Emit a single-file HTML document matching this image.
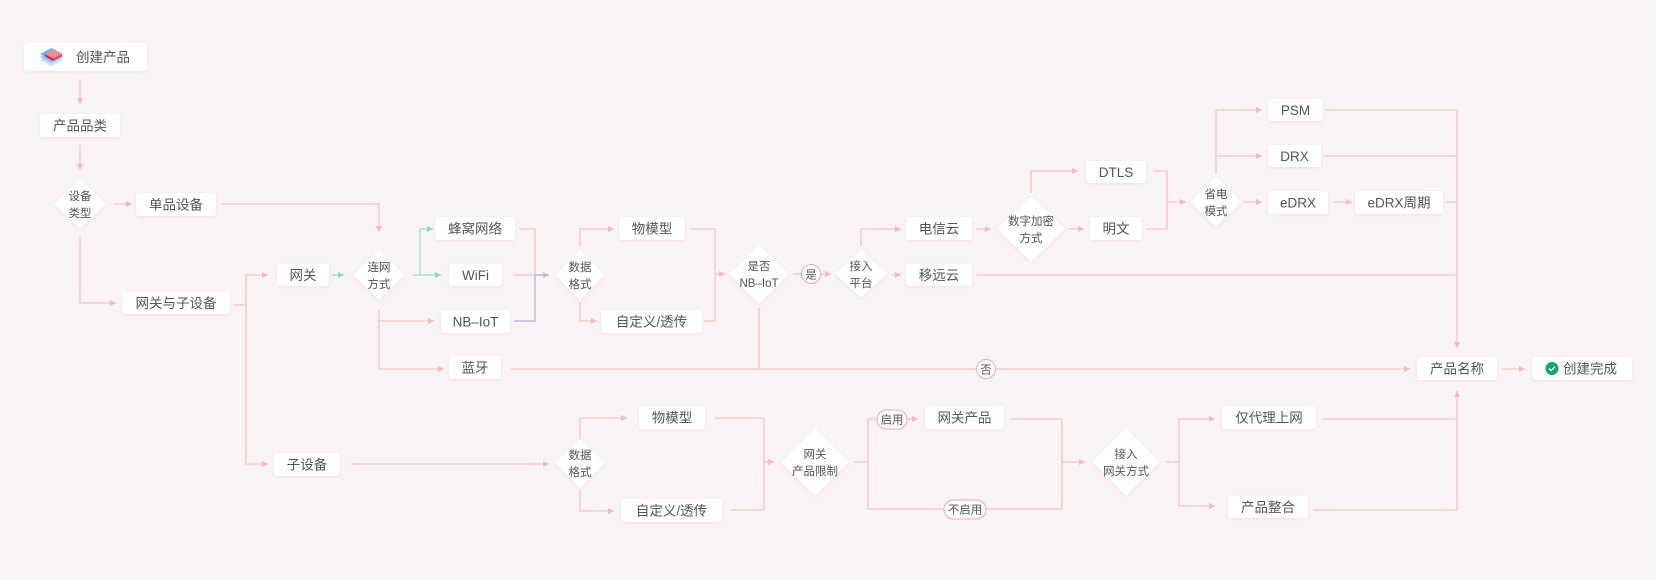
<!DOCTYPE html>
<html><head><meta charset="utf-8"><style>
html,body{margin:0;padding:0;background:#fbf4f4;}
svg{display:block;}
text{font-family:"Liberation Sans","Noto Sans CJK SC",sans-serif;fill:#555;}
.b{font-size:13.5px;}
.d{font-size:11.5px;}
.l{stroke:#f7c4c7;stroke-width:1.3;fill:none;}
.t{stroke:#8fe0cb;stroke-width:1.3;fill:none;}
.u{stroke:#aab3ea;stroke-width:1.3;fill:none;}
</style></head><body>
<svg width="1656" height="580" viewBox="0 0 1656 580" xmlns="http://www.w3.org/2000/svg">
<defs>
<marker id="a" markerUnits="userSpaceOnUse" markerWidth="7" markerHeight="7" refX="6" refY="3.5" orient="auto"><path d="M0,0.5 L6,3.5 L0,6.5 z" fill="#f7b9bd"/></marker>
<marker id="g" markerUnits="userSpaceOnUse" markerWidth="7" markerHeight="7" refX="6" refY="3.5" orient="auto"><path d="M0,0.5 L6,3.5 L0,6.5 z" fill="#7fdcc4"/></marker>
<filter id="s" x="-20%" y="-30%" width="140%" height="160%"><feDropShadow dx="0" dy="1" stdDeviation="1.5" flood-color="#e8d0d0" flood-opacity="0.6"/></filter>
</defs>
<rect width="1656" height="580" fill="#fbf4f4"/>

<g class="l">
<path d="M80 79 V104" marker-end="url(#a)"/>
<path d="M80 145 V170" marker-end="url(#a)"/>
<path d="M114 204 H132" marker-end="url(#a)"/>
<path d="M221 204 H379 V232" marker-end="url(#a)"/>
<path d="M80 237 V303 H116" marker-end="url(#a)"/>
<path d="M234 305 H246 V275 H268" marker-end="url(#a)"/>
<path d="M246 305 V464 H268" marker-end="url(#a)"/>
<path d="M379 310 V369 H444" marker-end="url(#a)"/>
<path d="M379 321 H434" marker-end="url(#a)"/>
<path d="M519 229 H535 V275"/>
<path d="M513 275 H549" marker-end="url(#a)"/>
<path d="M511 369 H1410" marker-end="url(#a)"/>
<path d="M759 308 V369"/>
<path d="M351 464 H549" marker-end="url(#a)"/>
<path d="M580 246 V229 H614" marker-end="url(#a)"/>
<path d="M580 302 V321 H597" marker-end="url(#a)"/>
<path d="M690 229 H715 V321 H704"/>
<path d="M715 274 H725" marker-end="url(#a)"/>
<path d="M793 274 H801"/>
<path d="M821 274 H831" marker-end="url(#a)"/>
<path d="M861 246 V229 H901" marker-end="url(#a)"/>
<path d="M892 275 H901" marker-end="url(#a)"/>
<path d="M976 229 H991" marker-end="url(#a)"/>
<path d="M1031 193 V171 H1078" marker-end="url(#a)"/>
<path d="M1069 229 H1084" marker-end="url(#a)"/>
<path d="M976 275 H1457"/>
<path d="M1153 171 H1167 V229 H1146"/>
<path d="M1167 202 H1186" marker-end="url(#a)"/>
<path d="M1216 174 V110 H1262" marker-end="url(#a)"/>
<path d="M1216 156 H1262" marker-end="url(#a)"/>
<path d="M1243 202 H1262" marker-end="url(#a)"/>
<path d="M1333 202 H1352" marker-end="url(#a)"/>
<path d="M1325 110 H1457 V348" marker-end="url(#a)"/>
<path d="M1323 156 H1457"/>
<path d="M1446 202 H1457"/>
<path d="M1502 369 H1525" marker-end="url(#a)"/>
<path d="M580 440 V418 H627" marker-end="url(#a)"/>
<path d="M580 490 V511 H614" marker-end="url(#a)"/>
<path d="M715 418 H764 V510 H731"/>
<path d="M764 462 H774" marker-end="url(#a)"/>
<path d="M854 462 H868 V419 H877"/>
<path d="M868 462 V509 H944"/>
<path d="M986 509 H1062 V419 H1011"/>
<path d="M908 419 H918" marker-end="url(#a)"/>
<path d="M1062 462 H1085" marker-end="url(#a)"/>
<path d="M1166 462 H1179 V419 H1215" marker-end="url(#a)"/>
<path d="M1179 462 V506 H1215" marker-end="url(#a)"/>
<path d="M1323 419 H1457"/>
<path d="M1313 510 H1457 V391" marker-end="url(#a)"/>
</g>
<g class="t">
<path d="M332 275 H344" marker-end="url(#g)"/>
<path d="M413 275 H441" marker-end="url(#g)"/>
<path d="M420 275 V229 H433" marker-end="url(#g)"/>
</g>
<path class="u" d="M514 321 H535 V275 H549"/>

<g fill="#fff" stroke="#f3a9ae" stroke-width="1">
<circle cx="811" cy="274" r="9.5"/>
<circle cx="986" cy="369" r="9.5"/>
<rect x="877" y="410" width="30" height="19" rx="9.5"/>
<rect x="944" y="500" width="42" height="19" rx="9.5"/>
</g>
<text x="811" y="278.5" class="d" text-anchor="middle">是</text>
<text x="986" y="373.5" class="d" text-anchor="middle">否</text>
<text x="892" y="423.5" class="d" text-anchor="middle">启用</text>
<text x="965" y="513.5" class="d" text-anchor="middle">不启用</text>

<g fill="#fff" filter="url(#s)">
<rect x="24" y="43" width="123" height="28" rx="4"/>
<rect x="40" y="114" width="80" height="23" rx="3"/>
<rect x="136" y="193" width="80" height="23" rx="3"/>
<rect x="122" y="292" width="108" height="22" rx="3"/>
<rect x="277" y="264" width="52" height="22" rx="3"/>
<rect x="435" y="217" width="80" height="23" rx="3"/>
<rect x="449" y="264" width="53" height="22" rx="3"/>
<rect x="441" y="310" width="69" height="23" rx="3"/>
<rect x="449" y="356" width="52" height="23" rx="3"/>
<rect x="274" y="453" width="66" height="23" rx="3"/>
<rect x="619" y="217" width="66" height="23" rx="3"/>
<rect x="601" y="310" width="101" height="23" rx="3"/>
<rect x="906" y="217" width="66" height="23" rx="3"/>
<rect x="906" y="264" width="66" height="22" rx="3"/>
<rect x="1086" y="161" width="60" height="22" rx="3"/>
<rect x="1090" y="217" width="52" height="23" rx="3"/>
<rect x="1268" y="99" width="55" height="22" rx="3"/>
<rect x="1268" y="145" width="53" height="22" rx="3"/>
<rect x="1268" y="191" width="60" height="23" rx="3"/>
<rect x="1355" y="191" width="88" height="23" rx="3"/>
<rect x="1417" y="357" width="80" height="23" rx="3"/>
<rect x="1532" y="357" width="100" height="23" rx="3"/>
<rect x="639" y="406" width="66" height="23" rx="3"/>
<rect x="621" y="499" width="101" height="23" rx="3"/>
<rect x="925" y="406" width="79" height="23" rx="3"/>
<rect x="1222" y="406" width="94" height="23" rx="3"/>
<rect x="1228" y="496" width="80" height="22" rx="3"/>
<polygon points="80,179 106,204 80,229 54,204"/>
<polygon points="379,250 405,275 379,300 353,275"/>
<polygon points="580,250 605,275 580,300 555,275"/>
<polygon points="759,245 789,274 759,304 729,274"/>
<polygon points="861,250 887,274 861,298 835,274"/>
<polygon points="1031,196 1065,229 1031,262 997,229"/>
<polygon points="1216,177 1242,202 1216,227 1190,202"/>
<polygon points="580,439 605,463 580,488 555,463"/>
<polygon points="815,428 849,462 815,496 781,462"/>
<polygon points="1126,428 1160,462 1126,496 1092,462"/>
</g>

<!-- icon -->
<g>
<polygon points="40,60 51.5,54 63,60 51.5,66" fill="#c4e2fb"/>
<polygon points="40,57 51.5,51 63,57 51.5,63" fill="#8cc8f6"/>
<polygon points="40,54 51.5,48 63,54 51.5,60" fill="#6bb4f2"/>
<polygon points="45,54 54,49.5 62,54 53,58.5" fill="#f38a96"/>
<polygon points="45,54 53,58.5 53,61 45,56.5" fill="#d22a44"/>
<polygon points="53,58.5 62,54 62,56.5 53,61" fill="#e6485c"/>
</g>
<circle cx="1552" cy="368.5" r="6.5" fill="#13a66b"/>
<path d="M1549 368.5 L1551.2 370.7 L1555 366.5" stroke="#fff" stroke-width="1.3" fill="none"/>

<g class="b" text-anchor="middle">
<text x="103" y="62">创建产品</text>
<text x="80" y="130.5">产品品类</text>
<text x="176" y="209.5">单品设备</text>
<text x="176" y="308">网关与子设备</text>
<text x="303" y="280">网关</text>
<text x="475" y="233.5">蜂窝网络</text>
<text x="475.5" y="280">WiFi</text>
<text x="475.5" y="326.5">NB–IoT</text>
<text x="475" y="372.5">蓝牙</text>
<text x="307" y="469.5">子设备</text>
<text x="652" y="233.5">物模型</text>
<text x="651.5" y="326.5">自定义/透传</text>
<text x="939" y="233.5">电信云</text>
<text x="939" y="280">移远云</text>
<text x="1116" y="177">DTLS</text>
<text x="1116" y="233.5">明文</text>
<text x="1295.5" y="115">PSM</text>
<text x="1294.5" y="161">DRX</text>
<text x="1298" y="207.5">eDRX</text>
<text x="1399" y="207.5">eDRX周期</text>
<text x="1457" y="373.5">产品名称</text>
<text x="1590" y="373.5">创建完成</text>
<text x="672" y="422.5">物模型</text>
<text x="671.5" y="515.5">自定义/透传</text>
<text x="964.5" y="422.5">网关产品</text>
<text x="1269" y="422.5">仅代理上网</text>
<text x="1268" y="512">产品整合</text>
</g>
<g class="d" text-anchor="middle">
<text x="80" y="200">设备</text><text x="80" y="217">类型</text>
<text x="379" y="271">连网</text><text x="379" y="288">方式</text>
<text x="580" y="271">数据</text><text x="580" y="288">格式</text>
<text x="759" y="270">是否</text><text x="759" y="287">NB–IoT</text>
<text x="861" y="270">接入</text><text x="861" y="287">平台</text>
<text x="1031" y="225">数字加密</text><text x="1031" y="242">方式</text>
<text x="1216" y="198">省电</text><text x="1216" y="215">模式</text>
<text x="580" y="459">数据</text><text x="580" y="476">格式</text>
<text x="815" y="458">网关</text><text x="815" y="475">产品限制</text>
<text x="1126" y="458">接入</text><text x="1126" y="475">网关方式</text>
</g>
</svg>
</body></html>
